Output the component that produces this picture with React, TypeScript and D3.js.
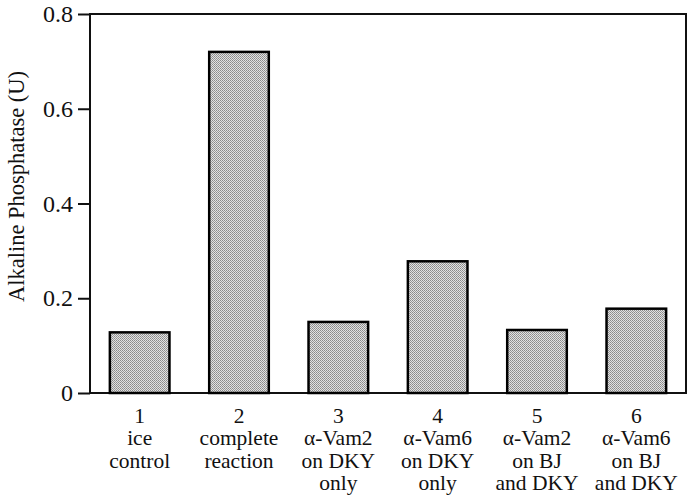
import { useRef, useEffect } from "react";
import * as d3 from "d3";

// bar values
const categories = ["1", "2", "3", "4", "5", "6"];
const values = [0.128, 0.72, 0.15, 0.278, 0.133, 0.178];
const labelLines = [
  ["1", "ice", "control"],
  ["2", "complete", "reaction"],
  ["3", "\u03b1-Vam2", "on DKY", "only"],
  ["4", "\u03b1-Vam6", "on DKY", "only"],
  ["5", "\u03b1-Vam2", "on BJ", "and DKY"],
  ["6", "\u03b1-Vam6", "on BJ", "and DKY"],
];
const yTicks = [0, 0.2, 0.4, 0.6, 0.8];

const W = 691;
const H = 502;
const margin = { top: 14, right: 5, bottom: 109, left: 90 };
const font = "Liberation Serif, Times New Roman, serif";

function draw(ref: SVGSVGElement | null) {
  const svg = d3.select(ref);
  svg.selectAll("*").remove();

  const w = W - margin.left - margin.right;
  const h = H - margin.top - margin.bottom;

  const defs = svg.append("defs");
  const pat = defs
    .append("pattern")
    .attr("id", "stipple")
    .attr("width", 2)
    .attr("height", 2)
    .attr("patternUnits", "userSpaceOnUse");
  pat.append("rect").attr("width", 2).attr("height", 2).attr("fill", "#e2e2e2");
  pat.append("rect").attr("width", 1).attr("height", 1).attr("fill", "#8a8a8a");
  pat.append("rect").attr("x", 1).attr("y", 1).attr("width", 1).attr("height", 1).attr("fill", "#9a9a9a");

  const g = svg.append("g").attr("transform", `translate(${margin.left},${margin.top})`);

  const x = d3.scaleBand<string>().domain(categories).range([0, w]).paddingInner(0.4).paddingOuter(0.2);
  const y = d3.scaleLinear().domain([0, 0.8]).range([h, 0]);

  // frame round the plot
  g.append("rect")
    .attr("width", w)
    .attr("height", h)
    .attr("fill", "none")
    .attr("stroke", "#111")
    .attr("stroke-width", 2);

  // bars
  g.selectAll("rect.bar")
    .data(values)
    .enter()
    .append("rect")
    .attr("class", "bar")
    .attr("x", (_, i) => x(categories[i])!)
    .attr("y", (d) => y(d))
    .attr("width", x.bandwidth())
    .attr("height", (d) => h - y(d))
    .attr("fill", "url(#stipple)")
    .attr("stroke", "#000")
    .attr("stroke-width", 2.5);

  // y axis
  const yAxis = g.append("g").call(
    d3
      .axisLeft(y)
      .tickValues(yTicks)
      .tickSize(12)
      .tickPadding(5)
      .tickFormat((d) => (d === 0 ? "0" : d3.format(".1f")(d as number)))
  );
  yAxis.select(".domain").remove();
  yAxis.attr("font-family", null).attr("font-size", null);
  yAxis.selectAll("line").attr("stroke", "#111").attr("stroke-width", 2);
  yAxis.selectAll("text").style("font-family", font).style("font-size", "24px").attr("fill", "#111");

  // x labels, several lines each
  const xl = g
    .selectAll("text.xl")
    .data(labelLines)
    .enter()
    .append("text")
    .attr("class", "xl")
    .attr("text-anchor", "middle")
    .style("font-family", font)
    .style("font-size", "21.5px")
    .attr("fill", "#111")
    .attr("transform", (_, i) => `translate(${x(categories[i])! + x.bandwidth() / 2},${h + 30})`);
  xl.selectAll("tspan")
    .data((d) => d)
    .enter()
    .append("tspan")
    .attr("x", 0)
    .attr("y", (_, j) => j * 22.4)
    .text((d) => d);

  // y title
  svg
    .append("text")
    .attr("transform", `translate(24,186.5) rotate(-90)`)
    .attr("text-anchor", "middle")
    .style("font-family", font)
    .style("font-size", "22.5px")
    .attr("fill", "#111")
    .text("Alkaline Phosphatase (U)");
}

export default function App() {
  const ref = useRef<SVGSVGElement>(null);
  useEffect(() => {
    draw(ref.current);
  }, []);
  return (
    <svg
      ref={ref}
      width={W}
      height={H}
      style={{ position: "absolute", left: 0, top: 0, background: "#fff" }}
    />
  );
}
